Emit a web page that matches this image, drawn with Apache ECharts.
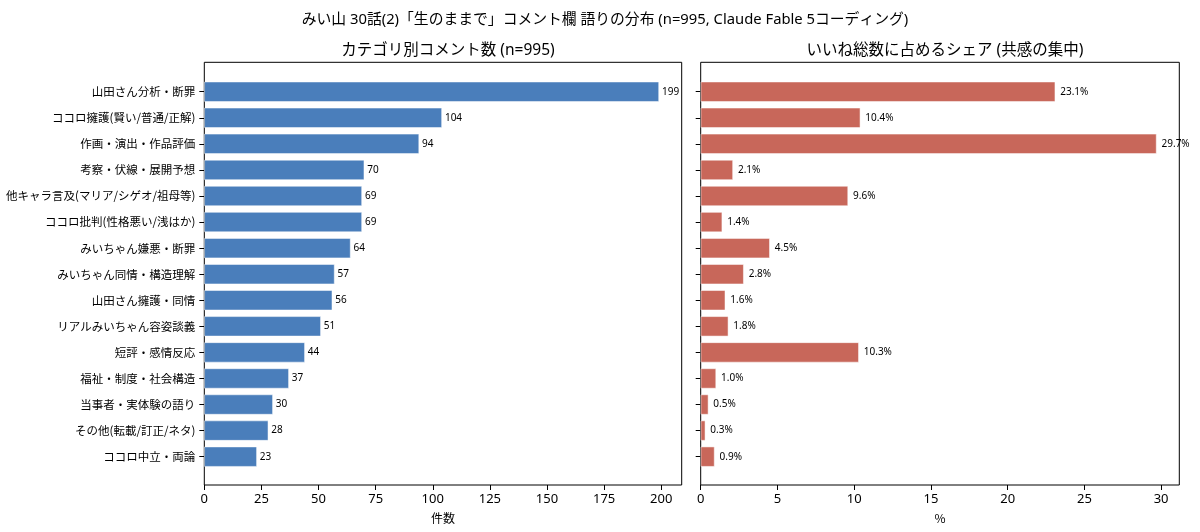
<!DOCTYPE html>
<html>
<head>
<meta charset="utf-8">
<script src="https://cdn.jsdelivr.net/npm/echarts@6/dist/echarts.min.js"></script>
<style>
html,body{margin:0;padding:0;background:#fff;}
#chart{width:1200px;height:532px;}
</style>
</head>
<body>
<div id="chart"></div>
<script>
const categories = [
  '山田さん分析・断罪',
  'ココロ擁護(賢い/普通/正解)',
  '作画・演出・作品評価',
  '考察・伏線・展開予想',
  '他キャラ言及(マリア/シゲオ/祖母等)',
  'ココロ批判(性格悪い/浅はか)',
  'みいちゃん嫌悪・断罪',
  'みいちゃん同情・構造理解',
  '山田さん擁護・同情',
  'リアルみいちゃん容姿談義',
  '短評・感情反応',
  '福祉・制度・社会構造',
  '当事者・実体験の語り',
  'その他(転載/訂正/ネタ)',
  'ココロ中立・両論'
];
const counts = [199, 104, 94, 70, 69, 69, 64, 57, 56, 51, 44, 37, 30, 28, 23];
const shares = [23.1, 10.4, 29.7, 2.1, 9.6, 1.4, 4.5, 2.8, 1.6, 1.8, 10.3, 1.0, 0.5, 0.3, 0.9];
const leftTicks = [0, 25, 50, 75, 100, 125, 150, 175, 200];
const rightTicks = [0, 5, 10, 15, 20, 25, 30];

const FONT = '"Noto Sans", "Noto Sans CJK JP", sans-serif';
const CJK = '"Noto Sans CJK JP", "Noto Sans", sans-serif';
const BLUE = '#4a7ebb';
const RED = '#c8675a';
const leftMax = Math.max(...counts) * 1.05;
const rightMax = Math.max(...shares) * 1.05;

const chart = echarts.init(document.getElementById('chart'));

// frame geometry
const L = {left: 204.3, right: 518.3};
const R = {left: 700.7, right: 20.7};
const frameTop = 62.3, frameBottom = 47;
const dataTop = 78.7, dataBottom = 62.3;
const xOffset = 15.3;

const hiddenAxis = (gi) => ({type: 'value', gridIndex: gi, show: false, min: 0, max: 1});

function valueXAxis(gi, max, tickInterval) {
  return {
    type: 'value', gridIndex: gi, min: 0, max: max, interval: tickInterval,
    offset: xOffset,
    axisLine: {show: false},
    axisTick: {show: true, inside: false, length: 5, lineStyle: {color: '#000', width: 1}},
    splitLine: {show: false},
    axisLabel: {
      color: '#000', fontSize: 13, fontFamily: FONT, margin: 8,
      showMaxLabel: false,
      formatter: v => String(v)
    },
    nameLocation: 'middle',
    nameGap: 27,
    nameTextStyle: {color: '#000', fontSize: 12, fontFamily: CJK}
  };
}

function catYAxis(gi, showLabels) {
  return {
    type: 'category', gridIndex: gi, data: categories, inverse: true,
    axisLine: {show: false},
    axisTick: {show: true, alignWithLabel: true, length: 5, lineStyle: {color: '#000', width: 1}},
    axisLabel: {show: showLabels, color: '#000', fontSize: 11.5, fontFamily: CJK, margin: 9, interval: 0},
    splitLine: {show: false}
  };
}

const option = {
  backgroundColor: '#fff',
  animation: false,
  textStyle: {fontFamily: FONT},
  title: [
    {text: 'みい山 30話(2)「生のままで」コメント欄 語りの分布 (n=995, Claude Fable 5コーディング)',
     left: 600, top: 7, textAlign: 'center',
     textStyle: {fontSize: 14.8, fontWeight: 'normal', color: '#000', fontFamily: FONT}},
    {text: 'カテゴリ別コメント数 (n=995)', left: 443, top: 38, textAlign: 'center',
     textStyle: {fontSize: 15.5, fontWeight: 'normal', color: '#000', fontFamily: FONT}},
    {text: 'いいね総数に占めるシェア (共感の集中)', left: 940, top: 38, textAlign: 'center',
     textStyle: {fontSize: 15.5, fontWeight: 'normal', color: '#000', fontFamily: FONT}}
  ],
  grid: [
    {left: L.left, right: L.right, top: frameTop, bottom: frameBottom, show: true, borderColor: '#000', borderWidth: 1, backgroundColor: 'transparent'},
    {left: R.left, right: R.right, top: frameTop, bottom: frameBottom, show: true, borderColor: '#000', borderWidth: 1, backgroundColor: 'transparent'},
    {left: L.left, right: L.right, top: dataTop, bottom: dataBottom},
    {left: R.left, right: R.right, top: dataTop, bottom: dataBottom}
  ],
  xAxis: [
    hiddenAxis(0), hiddenAxis(1),
    Object.assign(valueXAxis(2, leftMax, 25), {name: '件数'}),
    Object.assign(valueXAxis(3, rightMax, 5), {name: '%'})
  ],
  yAxis: [
    hiddenAxis(0), hiddenAxis(1),
    catYAxis(2, true),
    catYAxis(3, false)
  ],
  series: [
    {
      type: 'bar', xAxisIndex: 2, yAxisIndex: 2, data: counts, barWidth: 20,
      itemStyle: {color: BLUE, borderColor: '#ffffff', borderWidth: 0.5},
      label: {show: true, position: 'right', distance: 3, color: '#000', fontSize: 10, fontFamily: FONT},
      silent: true
    },
    {
      type: 'bar', xAxisIndex: 3, yAxisIndex: 3, data: shares, barWidth: 20,
      itemStyle: {color: RED, borderColor: '#ffffff', borderWidth: 0.5},
      label: {show: true, position: 'right', distance: 5, color: '#000', fontSize: 10, fontFamily: FONT,
              formatter: p => p.value.toFixed(1) + '%'},
      silent: true
    }
  ]
};
chart.setOption(option);
</script>
</body>
</html>
